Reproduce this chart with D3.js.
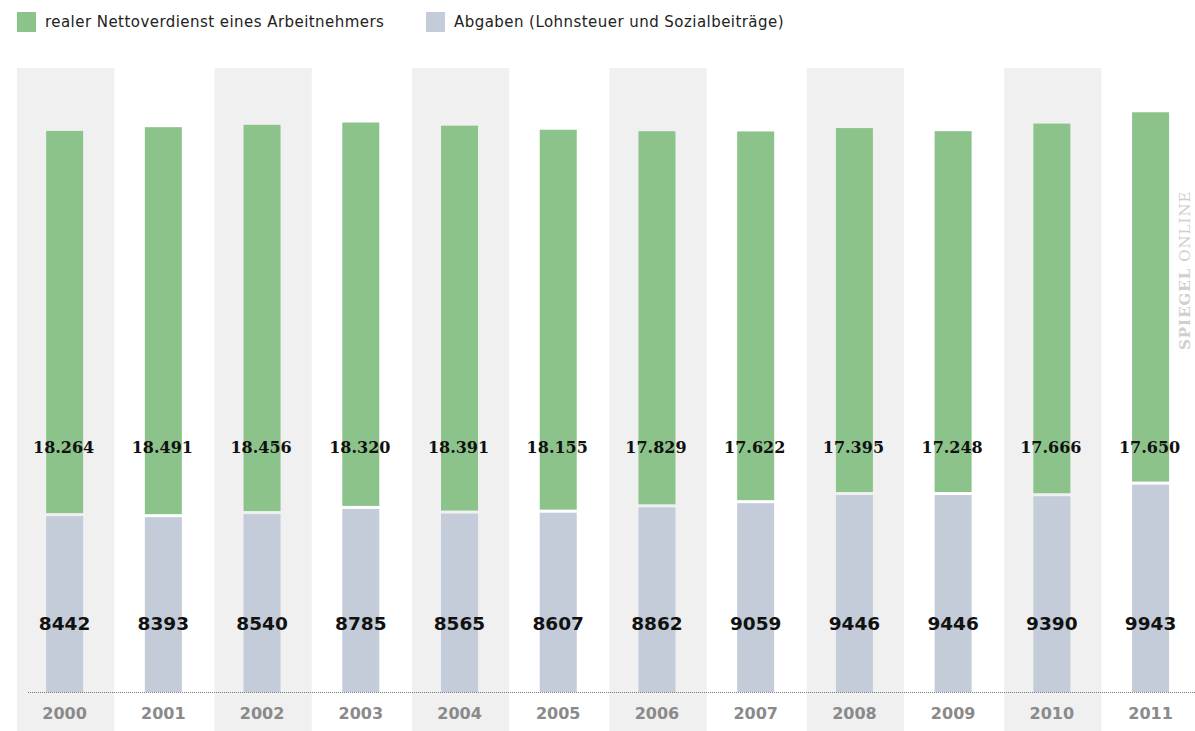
<!DOCTYPE html>
<html>
<head>
<meta charset="utf-8">
<script src="https://cdn.jsdelivr.net/npm/d3@7"></script>
<style>
  body { margin: 0; background: #fff; }
  svg { display: block; }
</style>
</head>
<body>
<div id="chart"></div>
<script>
// data
const years = ['2000','2001','2002','2003','2004','2005','2006','2007','2008','2009','2010','2011'];
const netto = [18264, 18491, 18456, 18320, 18391, 18155, 17829, 17622, 17395, 17248, 17666, 17650];
const abgaben = [8442, 8393, 8540, 8785, 8565, 8607, 8862, 9059, 9446, 9446, 9390, 9943];
const legendLabels = ['realer Nettoverdienst eines Arbeitnehmers', 'Abgaben (Lohnsteuer und Sozialbeiträge)'];

const width = 1195, height = 731;
const green = '#8cc38b', blue = '#c3ccd8', bandGrey = '#f0f0f0';

const svg = d3.select('#chart').append('svg')
	.attr('width', width)
	.attr('height', height);

const x = d3.scaleBand()
	.domain(years)
	.range([17, 17 + 12 * 98.6])
	.paddingInner(0.015)
	.paddingOuter(0);

const y = d3.scaleLinear()
	.domain([0, 29700])
	.range([692, 68]);

// alternating background bands
svg.selectAll('.band')
	.data(years.filter(function(d, i) { return i % 2 == 0; }))
	.enter().append('rect')
	.attr('class', 'band')
	.attr('x', function(d) { return x(d); })
	.attr('y', y(29700))
	.attr('width', x.bandwidth())
	.attr('height', height - y(29700))
	.attr('fill', bandGrey);

const barW = 37;
const barX = function(d) { return x(d) + (x.bandwidth() - barW) / 2 - 1; };

// Abgaben (bottom part)
svg.selectAll('.abg')
	.data(years)
	.enter().append('rect')
	.attr('class', 'abg')
	.attr('x', barX)
	.attr('y', function(d, i) { return y(abgaben[i]) + 1.5; })
	.attr('width', barW)
	.attr('height', function(d, i) { return y(0) - y(abgaben[i]) - 1.5; })
	.attr('fill', blue);

// Netto (top part)
svg.selectAll('.net')
	.data(years)
	.enter().append('rect')
	.attr('class', 'net')
	.attr('x', barX)
	.attr('y', function(d, i) { return y(abgaben[i] + netto[i]); })
	.attr('width', barW)
	.attr('height', function(d, i) { return y(abgaben[i]) - y(abgaben[i] + netto[i]) - 1.5; })
	.attr('fill', green);

// dotted baseline
svg.append('line')
	.attr('x1', 28).attr('x2', width)
	.attr('y1', y(0) + 0.5).attr('y2', y(0) + 0.5)
	.attr('stroke', '#777')
	.attr('stroke-width', 1)
	.attr('stroke-dasharray', '1,1');

const fmt = d3.formatLocale({ decimal: ',', thousands: '.', grouping: [3], currency: ['', '€'] }).format(',d');

// value labels
svg.selectAll('.netLabel')
	.data(years)
	.enter().append('text')
	.attr('x', function(d) { return x(d) + x.bandwidth() / 2 - 2; })
	.attr('y', 453)
	.attr('text-anchor', 'middle')
	.style('font-family', '"DejaVu Serif", serif')
	.style('font-weight', 'bold')
	.style('font-size', '16px')
	.style('fill', '#111')
	.text(function(d, i) { return fmt(netto[i]); });

svg.selectAll('.abgLabel')
	.data(years)
	.enter().append('text')
	.attr('x', function(d) { return x(d) + x.bandwidth() / 2 - 1; })
	.attr('y', 630)
	.attr('text-anchor', 'middle')
	.style('font-family', '"DejaVu Sans", sans-serif')
	.style('font-weight', 'bold')
	.style('font-size', '18.5px')
	.style('fill', '#111')
	.text(function(d, i) { return abgaben[i]; });

// x axis (years)
const xAxis = svg.append('g')
	.attr('transform', 'translate(0,' + (y(0) + 27) + ')')
	.call(d3.axisBottom(x).tickSize(0).tickPadding(0));
xAxis.select('.domain').remove();
xAxis.selectAll('text')
	.attr('dx', -1)
	.attr('dy', 0)
	.style('font-family', '"DejaVu Sans", sans-serif')
	.style('font-weight', 'bold')
	.style('font-size', '16px')
	.style('fill', '#8a8a8a');

// legend
const legend = svg.append('g');
const legendX = [17, 426];
legendLabels.forEach(function(label, i) {
	legend.append('rect')
		.attr('x', legendX[i]).attr('y', 12)
		.attr('width', 19).attr('height', 20)
		.attr('fill', i == 0 ? green : blue);
	legend.append('text')
		.attr('x', legendX[i] + 28).attr('y', 27)
		.style('font-family', '"DejaVu Sans", sans-serif')
		.style('font-size', '15px')
		.style('letter-spacing', '0.45px')
		.style('fill', '#222')
		.text(label);
});

// watermark
const wm = svg.append('text')
	.attr('transform', 'translate(1190,350) rotate(-90)')
	.style('font-family', '"DejaVu Serif", serif')
	.style('font-size', '15px')
	.style('letter-spacing', '1px')
	.style('fill', '#cfcfcf');
wm.append('tspan').style('font-weight', 'bold').text('SPIEGEL');
wm.append('tspan').text(' ONLINE');
</script>
</body>
</html>
